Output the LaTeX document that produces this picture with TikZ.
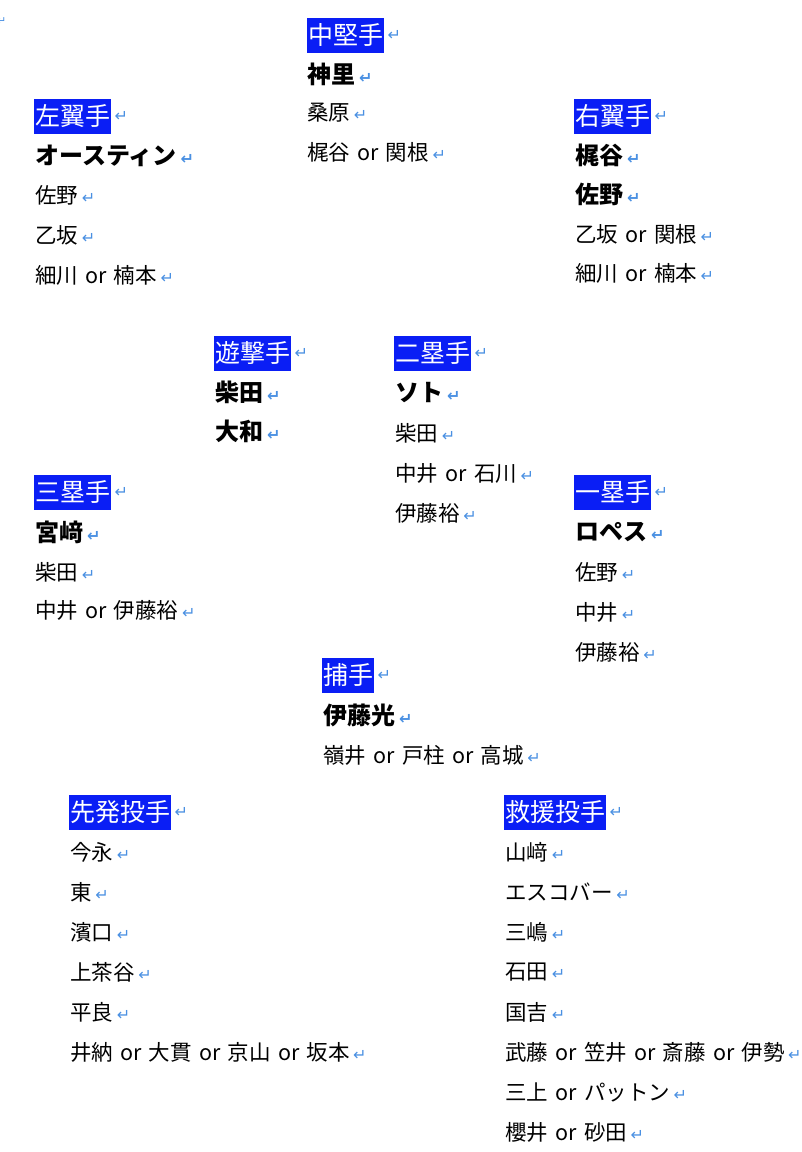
\documentclass[tikz,border=0pt]{standalone}
\usepackage{fontspec}
\setmainfont[WordSpace=1.5]{Noto Sans CJK JP}
\newfontfamily\retfont{DejaVu Sans}
\definecolor{hdrblue}{HTML}{0A1EF5}
\definecolor{retblue}{HTML}{4A90E2}
\newcommand{\retm}{\,{\retfont\fontsize{16}{16}\selectfont\textcolor{retblue}{↵}}}
\tikzset{
 ent/.style={anchor=west,inner sep=0pt,font=\fontsize{21.5}{21.5}\selectfont},
 big/.style={anchor=west,inner sep=0pt,font=\fontsize{24}{24}\selectfont\bfseries},
 hdr/.style={anchor=west,fill=hdrblue,text=white,inner xsep=1pt,inner ysep=0pt,minimum height=35pt,font=\fontsize{25}{25}\selectfont},
 retn/.style={anchor=west,inner sep=0pt,font=\retfont\fontsize{16}{16}\selectfont,text=retblue}
}
\newcommand{\hd}[4]{\node[hdr] (#1) at (#2,#3) {#4}; \node[retn] (#1r) at ([xshift=3pt]#1.east) {↵};}
\begin{document}
\begin{tikzpicture}[x=1pt,y=-1pt]
\useasboundingbox (0,0) rectangle (802,1152);
\node[retn,font=\retfont\fontsize{11}{11}\selectfont] (tl) at (-3,21) {↵};
% center field
\hd{cf}{307}{35}{中堅手}
\node[big] (cf1) at (307,74) {神里\retm};
\node[ent] (cf2) at (307,113) {桑原\retm};
\node[ent] (cf3) at (307,152) {梶谷 or 関根\retm};
% left field
\hd{lf}{34}{116}{左翼手}
\node[big] (lf1) at (35,156) {オースティン\retm};
\node[ent] (lf2) at (35,195) {佐野\retm};
\node[ent] (lf3) at (35,235) {乙坂\retm};
\node[ent] (lf4) at (35,275) {細川 or 楠本\retm};
% right field
\hd{rf}{574}{116}{右翼手}
\node[big] (rf1) at (575,155) {梶谷\retm};
\node[big] (rf2) at (575,194) {佐野\retm};
\node[ent] (rf3) at (575,234) {乙坂 or 関根\retm};
\node[ent] (rf4) at (575,273) {細川 or 楠本\retm};
% shortstop
\hd{ss}{214}{353}{遊撃手}
\node[big] (ss1) at (215,392) {柴田\retm};
\node[big] (ss2) at (215,431) {大和\retm};
% second
\hd{sb}{394}{353}{二塁手}
\node[big] (sb1) at (395,393) {ソト\retm};
\node[ent] (sb2) at (395,433) {柴田\retm};
\node[ent] (sb3) at (395,473) {中井 or 石川\retm};
\node[ent] (sb4) at (395,513) {伊藤裕\retm};
% third
\hd{tb}{34}{492}{三塁手}
\node[big] (tb1) at (35,532) {宮﨑\retm};
\node[ent] (tb2) at (35,572) {柴田\retm};
\node[ent] (tb3) at (35,610) {中井 or 伊藤裕\retm};
% first
\hd{fb}{574}{492}{一塁手}
\node[big] (fb1) at (575,532) {ロペス\retm};
\node[ent] (fb2) at (575,572) {佐野\retm};
\node[ent] (fb3) at (575,612) {中井\retm};
\node[ent] (fb4) at (575,652) {伊藤裕\retm};
% catcher
\hd{c}{322}{675}{捕手}
\node[big] (c1) at (323,715) {伊藤光\retm};
\node[ent] (c2) at (323,755) {嶺井 or 戸柱 or 高城\retm};
% starters
\hd{sp}{69}{812}{先発投手}
\node[ent] (sp1) at (70,852) {今永\retm};
\node[ent] (sp2) at (70,892) {東\retm};
\node[ent] (sp3) at (70,932) {濱口\retm};
\node[ent] (sp4) at (70,972) {上茶谷\retm};
\node[ent] (sp5) at (70,1012) {平良\retm};
\node[ent] (sp6) at (70,1052) {井納 or 大貫 or 京山 or 坂本\retm};
% relievers
\hd{rp}{504}{812}{救援投手}
\node[ent] (rp1) at (505,852) {山﨑\retm};
\node[ent] (rp2) at (505,892) {エスコバー\retm};
\node[ent] (rp3) at (505,932) {三嶋\retm};
\node[ent] (rp4) at (505,972) {石田\retm};
\node[ent] (rp5) at (505,1012) {国吉\retm};
\node[ent] (rp6) at (505,1052) {武藤 or 笠井 or 斎藤 or 伊勢\retm};
\node[ent] (rp7) at (505,1092) {三上 or パットン\retm};
\node[ent] (rp8) at (505,1132) {櫻井 or 砂田\retm};
\end{tikzpicture}
\end{document}
